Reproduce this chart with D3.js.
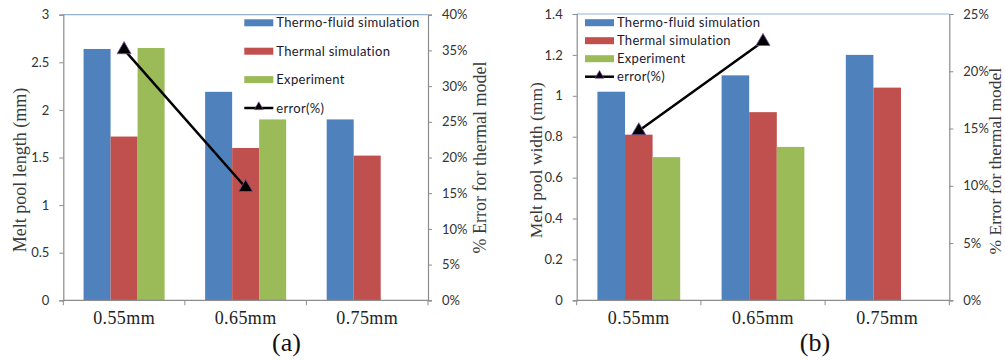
<!DOCTYPE html>
<html>
<head>
<meta charset="utf-8">
<script src="https://cdn.jsdelivr.net/npm/d3@7"></script>
<style>
  html, body { margin: 0; padding: 0; background: #fff; }
  svg { display: block; }
</style>
</head>
<body>
<svg id="chart" width="1005" height="360"></svg>
<script>
// ---- data ----
const categories = ["0.55mm", "0.65mm", "0.75mm"];
const seriesNames = ["Thermo-fluid simulation", "Thermal simulation", "Experiment"];
const errorName = "error(%)";

// (a) melt pool length, mm
const lengthThermoFluid = [2.64, 2.19, 1.90];
const lengthThermal = [1.72, 1.60, 1.52];
const lengthExperiment = [2.65, 1.90, null];
const lengthError = [35.1, 15.8, null];

// (b) melt pool width, mm
const widthThermoFluid = [1.02, 1.10, 1.20];
const widthThermal = [0.81, 0.92, 1.04];
const widthExperiment = [0.70, 0.75, null];
const widthError = [14.8, 22.6, null];

// axis ticks
const lengthTicks = [0, 0.5, 1, 1.5, 2, 2.5, 3];
const lengthErrTicks = [0, 5, 10, 15, 20, 25, 30, 35, 40];
const widthTicks = [0, 0.2, 0.4, 0.6, 0.8, 1.0, 1.2, 1.4];
const widthErrTicks = [0, 5, 10, 15, 20, 25];

const colors = ["#4F81BD", "#C0504D", "#9BBB59"];
const axisColor = "#8c8c8c";
const sansFont = "Lato, 'Open Sans', sans-serif";
const serifFont = "'Liberation Serif', 'DejaVu Serif', serif";

const svg = d3.select("#chart");

function drawPanel(cfg) {
  const g = svg.append("g");
  const { left, right, top, bottom } = cfg.box;

  const x = d3.scaleBand().domain(categories).range([left, right]);
  const bw = x.bandwidth();
  const inner = d3.scaleBand().domain(d3.range(3)).range([bw / 6, bw * 5 / 6]);
  const y = d3.scaleLinear().domain([0, d3.max(cfg.ticks)]).range([bottom, top]);
  const y2 = d3.scaleLinear().domain([0, d3.max(cfg.errTicks)]).range([bottom, top]);

  // bars
  cfg.series.forEach((vals, si) => {
    g.append("g").selectAll("rect")
      .data(vals.map((v, i) => ({ v, c: categories[i] })).filter(d => d.v != null))
      .join("rect")
      .attr("x", d => x(d.c) + inner(si))
      .attr("width", inner.bandwidth())
      .attr("y", d => y(d.v))
      .attr("height", d => bottom - y(d.v))
      .attr("fill", colors[si]);
  });

  // plot frame: top border line
  g.append("line")
    .attr("x1", left).attr("x2", right).attr("y1", top).attr("y2", top)
    .attr("stroke", "#95B3D7").attr("stroke-width", 1.2);

  // left axis
  const yAxis = d3.axisLeft(y).tickValues(cfg.ticks).tickSize(4).tickPadding(10)
    .tickFormat(d => String(+d.toFixed(2)));
  const ya = g.append("g").attr("transform", `translate(${left},0)`).call(yAxis);
  // right axis
  const y2Axis = d3.axisRight(y2).tickValues(cfg.errTicks).tickSize(4).tickPadding(10)
    .tickFormat(d => d + "%");
  const y2a = g.append("g").attr("transform", `translate(${right},0)`).call(y2Axis);
  // bottom axis with ticks on category boundaries
  const xa = g.append("g").attr("transform", `translate(0,${bottom})`);
  xa.append("line").attr("x1", left).attr("x2", right).attr("stroke", axisColor).attr("stroke-width", 1.2);
  xa.selectAll("line.tk")
    .data(d3.range(categories.length + 1))
    .join("line").attr("class", "tk")
    .attr("x1", i => left + i * bw).attr("x2", i => left + i * bw)
    .attr("y1", 0).attr("y2", 5).attr("stroke", axisColor);
  xa.selectAll("text")
    .data(categories)
    .join("text")
    .attr("x", d => x(d) + bw / 2)
    .attr("y", 24)
    .attr("text-anchor", "middle")
    .attr("font-family", serifFont)
    .attr("font-size", 18)
    .attr("letter-spacing", 0.4)
    .attr("fill", "#222")
    .text(d => d);

  [ya, y2a].forEach(a => {
    a.select(".domain").attr("stroke", axisColor).attr("stroke-width", 1.2);
    a.selectAll(".tick line").attr("stroke", axisColor);
    a.selectAll(".tick text")
      .attr("font-family", sansFont).attr("font-size", 13).attr("fill", "#333");
  });

  // error line with triangle markers
  const pts = cfg.error.map((v, i) => ({ v, c: categories[i] })).filter(d => d.v != null);
  const line = d3.line().x(d => x(d.c) + bw / 2).y(d => y2(d.v));
  g.append("path").datum(pts).attr("d", line)
    .attr("fill", "none").attr("stroke", "#000").attr("stroke-width", 2.5);
  const tri = d3.symbol().type(d3.symbolTriangle).size(85);
  g.append("g").selectAll("path")
    .data(pts).join("path")
    .attr("d", tri)
    .attr("transform", d => `translate(${x(d.c) + bw / 2},${y2(d.v)})`)
    .attr("fill", "#000").attr("stroke", "#7a4fa0").attr("stroke-width", 0.8);

  // legend
  const lg = g.append("g");
  const L = cfg.legend;
  seriesNames.concat([errorName]).forEach((name, i) => {
    const cy = L.y + i * L.dy;
    if (i < 3) {
      lg.append("rect").attr("x", L.x).attr("y", cy - 3.5).attr("width", 29).attr("height", 7)
        .attr("fill", colors[i]);
    } else {
      lg.append("line").attr("x1", L.x).attr("x2", L.x + 29).attr("y1", cy).attr("y2", cy)
        .attr("stroke", "#000").attr("stroke-width", 2.5);
      lg.append("path").attr("d", d3.symbol().type(d3.symbolTriangle).size(35))
        .attr("transform", `translate(${L.x + 14.5},${cy - 1})`)
        .attr("fill", "#000").attr("stroke", "#7a4fa0").attr("stroke-width", 0.6);
    }
    lg.append("text").attr("x", L.x + 32).attr("y", cy).attr("dy", "0.35em")
      .attr("font-family", sansFont).attr("font-size", 13).attr("fill", "#1a1a2e")
      .attr("letter-spacing", 0.3)
      .text(name);
  });

  // axis titles
  g.append("text")
    .attr("transform", `translate(${cfg.titleLeftX},${(top + bottom) / 2 + cfg.titleLeftDy}) rotate(-90)`)
    .attr("text-anchor", "middle").attr("dy", "0.35em")
    .attr("font-family", serifFont).attr("font-size", cfg.titleSize).attr("fill", "#3a3a3a")
    .text(cfg.yTitle);
  g.append("text")
    .attr("transform", `translate(${cfg.titleRightX},${(top + bottom) / 2 + cfg.titleRightDy}) rotate(-90)`)
    .attr("text-anchor", "middle").attr("dy", "0.35em")
    .attr("font-family", serifFont).attr("font-size", cfg.titleSize).attr("fill", "#3a3a3a")
    .text("% Error for thermal model");

  // panel label
  g.append("text")
    .attr("x", cfg.panelX).attr("y", 351)
    .attr("text-anchor", "middle")
    .attr("font-family", serifFont).attr("font-size", 26).attr("fill", "#111")
    .text(cfg.panel);
}

drawPanel({
  box: { left: 63.3, right: 428, top: 14.7, bottom: 300.3 },
  series: [lengthThermoFluid, lengthThermal, lengthExperiment],
  error: lengthError,
  ticks: lengthTicks,
  errTicks: lengthErrTicks,
  legend: { x: 244.3, y: 22.8, dy: 28.4 },
  yTitle: "Melt pool length (mm)",
  titleLeftX: 19.5, titleLeftDy: 12.5,
  titleRightX: 480, titleRightDy: 0,
  titleSize: 18,
  panel: "(a)", panelX: 286.5
});

drawPanel({
  box: { left: 576.7, right: 949.3, top: 14, bottom: 300.3 },
  series: [widthThermoFluid, widthThermal, widthExperiment],
  error: widthError,
  ticks: widthTicks,
  errTicks: widthErrTicks,
  legend: { x: 585, y: 22.7, dy: 18 },
  yTitle: "Melt pool width (mm)",
  titleLeftX: 536, titleLeftDy: 3,
  titleRightX: 995, titleRightDy: 4,
  titleSize: 17.5,
  panel: "(b)", panelX: 815
});
</script>
</body>
</html>
